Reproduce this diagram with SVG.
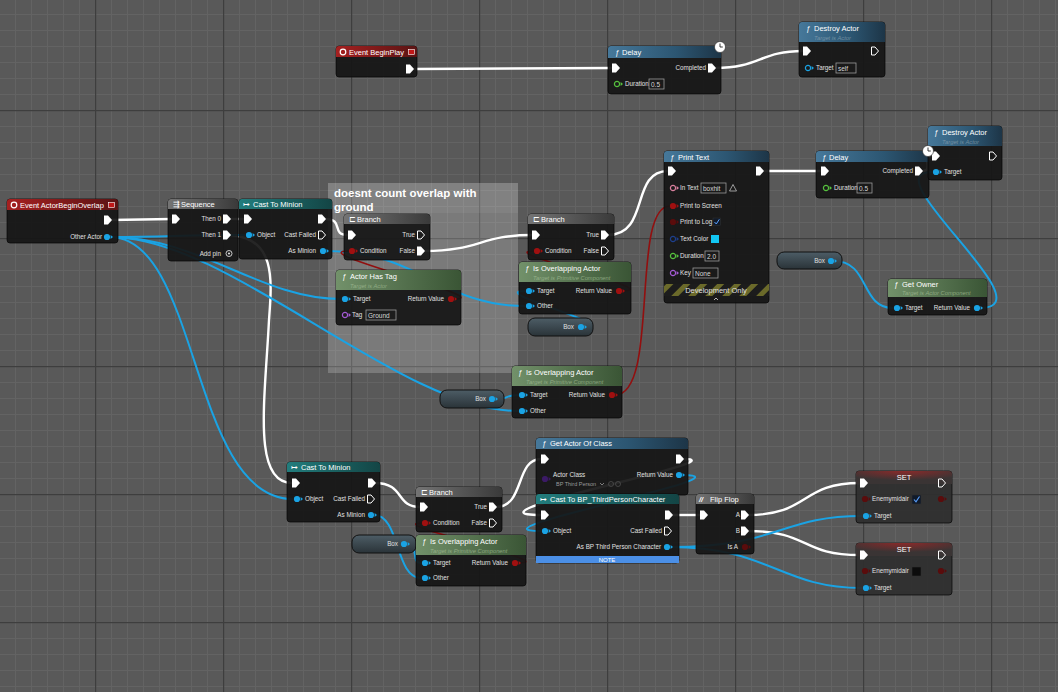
<svg xmlns="http://www.w3.org/2000/svg" width="1058" height="692" viewBox="0 0 1058 692">
<defs>
<pattern id="gMinor" x="15" y="14" width="16" height="16" patternUnits="userSpaceOnUse"><path d="M0.5,0V16M0,0.5H16" stroke="#636363" stroke-width="1" fill="none"/></pattern>
<pattern id="gMajor" x="95" y="110" width="128" height="128" patternUnits="userSpaceOnUse"><path d="M0.5,0V128M0,0.5H128" stroke="#3e3e3e" stroke-width="1.5" fill="none"/></pattern>
<pattern id="stripes" width="12" height="12" patternUnits="userSpaceOnUse" patternTransform="rotate(45)"><rect width="12" height="12" fill="#1c1c1c"/><rect width="5" height="12" fill="#6b6a2a"/></pattern>
<linearGradient id="hRed" x1="0" x2="1"><stop offset="0" stop-color="#a52020"/><stop offset="1" stop-color="#5a1414"/></linearGradient>
<linearGradient id="hBlue" x1="0" x2="1"><stop offset="0" stop-color="#46789a"/><stop offset="0.6" stop-color="#2c5672"/><stop offset="1" stop-color="#1d3547"/></linearGradient>
<linearGradient id="hGreen" x1="0" x2="1"><stop offset="0" stop-color="#72916a"/><stop offset="1" stop-color="#3a5535"/></linearGradient>
<linearGradient id="hTeal" x1="0" x2="1"><stop offset="0" stop-color="#227d7d"/><stop offset="1" stop-color="#134545"/></linearGradient>
<linearGradient id="hGray" x1="0" x2="1"><stop offset="0" stop-color="#747474"/><stop offset="1" stop-color="#3a3a3a"/></linearGradient>
<radialGradient id="hSet" cx="0.5" cy="0" r="0.7"><stop offset="0" stop-color="#8a2a2a"/><stop offset="1" stop-color="#3a3434"/></radialGradient>
<linearGradient id="varG" x1="0" y1="0" x2="0" y2="1"><stop offset="0" stop-color="#4d5d66"/><stop offset="1" stop-color="#2a3338"/></linearGradient>
<linearGradient id="gloss" x1="0" y1="0" x2="0" y2="1"><stop offset="0" stop-color="#fff" stop-opacity="0.18"/><stop offset="1" stop-color="#fff" stop-opacity="0"/></linearGradient>
<path id="exF" d="M-4,-4.5h4l4,4.5l-4,4.5h-4z" fill="#fff"/>
<path id="exH" d="M-3.5,-4h3.5l3.5,4l-3.5,4h-3.5z" fill="none" stroke="#fff" stroke-width="1"/>
<g id="pin"><circle r="3.1"/><path d="M3.6,-2L6,0L3.6,2z"/></g>
<g id="pinH"><circle r="2.6" fill="none" stroke-width="1.2"/><path d="M3.6,-2L6,0L3.6,2z" stroke="none"/></g>
<g id="clock"><circle r="5.5" fill="#fff" stroke="#222" stroke-width="0.6"/><path d="M0,-3.5V0H2.8" stroke="#222" stroke-width="0.9" fill="none"/></g>
</defs>
<style>
.body{fill:#151515;fill-opacity:0.93;stroke:#050505;stroke-opacity:0.7;stroke-width:1}
text{font-family:"Liberation Sans",Arial,sans-serif}
.ttl{font-size:7.5px;fill:#fff}
.sub{font-size:5.8px;font-style:italic;fill:#8fa6b4;fill-opacity:0.7}
.subg{font-size:5.8px;font-style:italic;fill:#a7c09a;fill-opacity:0.7}
.l{font-size:6.3px;fill:#e0e0e0}
.lr{font-size:6.3px;fill:#e0e0e0;text-anchor:end}
.bx{fill:none;stroke:#9a9a9a;stroke-width:0.8}
.bt{font-size:6.5px;fill:#d8d8d8}
.w{fill:none;stroke:#fff;stroke-width:2.4}
.b{fill:none;stroke:#1aa3e4;stroke-width:2}
.r{fill:none;stroke:#920f0f;stroke-width:1.6}
.var{fill:url(#varG);stroke:#111;stroke-width:1}
</style>
<rect width="1058" height="692" fill="#595959"/>
<rect width="1058" height="692" fill="url(#gMinor)"/>
<rect width="1058" height="692" fill="url(#gMajor)"/>

<g id="comment">
<rect x="328" y="183" width="190" height="190" fill="#fff" fill-opacity="0.2"/>
<rect x="328" y="183" width="190" height="30" fill="#fff" fill-opacity="0.06"/>
<text x="334" y="197" font-size="11.5" font-weight="bold" fill="#fff">doesnt count overlap with</text>
<text x="334" y="211" font-size="11.5" font-weight="bold" fill="#fff">ground</text>
</g>

<g id="connectors">
<path class="w" d="M413,69L612,68"/>
<path class="w" d="M715,68C760,68 760,51 803,51"/>
<path class="w" d="M111,220L172,219"/>
<path class="w" d="M230,219L244,219"/>
<path class="w" d="M230,235C276,238 272,280 269,320C265,400 252,483 292,483"/>
<path class="w" d="M325,219C345,219 330,235 348,235"/>
<path class="w" d="M424,251C480,251 480,235 532,235"/>
<path class="w" d="M608,235C650,235 630,171 668,171"/>
<path class="w" d="M763,171L821,171"/>
<path class="w" d="M922,171C935,171 920,156 932,156"/>
<path class="w" d="M375,483C405,483 395,507 420,507"/>
<path class="w" d="M496,507C525,507 515,459 541,459"/>
<path class="w" d="M683,459C745,459 450,515 541,515"/>
<path class="w" d="M672,515L700,515"/>
<path class="w" d="M748,515C810,515 800,483 860,483"/>
<path class="w" d="M748,531C810,531 800,555 860,555"/>
<path class="b" d="M110,237C170,237 180,235 245,235"/>
<path class="b" d="M110,237C200,237 260,299 341,299"/>
<path class="b" d="M110,237C230,237 400,411 518,411"/>
<path class="b" d="M110,237C200,237 190,499 293,499"/>
<path class="b" d="M326,251C420,251 440,306 525,306"/>
<path class="b" d="M584,327C625,327 485,291 525,291"/>
<path class="b" d="M495,399C510,399 505,395 518,395"/>
<path class="b" d="M834,261C870,261 860,308 893,308"/>
<path class="b" d="M980,308C1050,308 870,172 932,172"/>
<path class="b" d="M374,515C400,515 395,578 421,578"/>
<path class="b" d="M407,544C420,544 410,563 421,563"/>
<path class="b" d="M682,475C760,475 460,531 541,531"/>
<path class="b" d="M670,547C780,547 780,516 862,516"/>
<path class="b" d="M670,547C770,547 780,588 862,588"/>
<path class="r" d="M454,299C500,299 300,251 349,251"/>
<path class="r" d="M622,291C670,291 490,251 534,251"/>
<path class="r" d="M615,395C660,395 630,206 670,206"/>
<path class="r" d="M518,563C565,563 380,523 422,523"/>
</g>

<g id="n_beginplay">
<rect class="body" x="336" y="46" width="81" height="31" rx="3"/>
<path d="M336,57V49Q336,46 339,46H414Q417,46 417,49V57Z" fill="url(#hRed)"/>
<circle cx="343" cy="52" r="2.8" fill="none" stroke="#fff" stroke-width="1.2"/>
<text class="ttl" x="349" y="55">Event BeginPlay</text>
<rect x="408.5" y="49.5" width="6" height="5" fill="#c01818" stroke="#fff" stroke-width="0.6"/>
<use href="#exF" x="410" y="69"/>
</g>

<g id="n_delay1">
<rect class="body" x="608" y="46" width="113" height="48" rx="3"/>
<path d="M608,58V49Q608,46 611,46H718Q721,46 721,49V58Z" fill="url(#hBlue)"/>
<text class="ttl" x="615" y="55" font-style="italic">ƒ</text>
<text class="ttl" x="622" y="55">Delay</text>
<use href="#clock" x="720" y="47"/>
<use href="#exF" x="616" y="68"/>
<text class="lr" x="706" y="70">Completed</text>
<use href="#exF" x="712" y="68"/>
<use href="#pinH" x="617" y="84" fill="#56c23e" stroke="#56c23e"/>
<text class="l" x="625" y="86">Duration</text>
<rect class="bx" x="649" y="79" width="15" height="10"/>
<text class="bt" x="651" y="87">0.5</text>
</g>

<g id="n_destroy1">
<rect class="body" x="799" y="22" width="86" height="55" rx="3"/>
<path d="M799,42V25Q799,22 802,22H882Q885,22 885,25V42Z" fill="url(#hBlue)"/>
<text class="ttl" x="806" y="31" font-style="italic">ƒ</text>
<text class="ttl" x="814" y="31">Destroy Actor</text>
<text class="sub" x="814" y="40">Target is Actor</text>
<use href="#exF" x="807" y="51"/>
<use href="#exH" x="875" y="51"/>
<use href="#pinH" x="808" y="68" fill="#1aa3e4" stroke="#1aa3e4"/>
<text class="l" x="816" y="70">Target</text>
<rect class="bx" x="836" y="63" width="20" height="10"/>
<text class="bt" x="838" y="71">self</text>
</g>

<g id="n_overlap_event">
<rect class="body" x="7" y="199" width="111" height="44" rx="3"/>
<path d="M7,210V202Q7,199 10,199H115Q118,199 118,202V210Z" fill="url(#hRed)"/>
<circle cx="14" cy="205" r="2.8" fill="none" stroke="#fff" stroke-width="1.2"/>
<text class="ttl" x="20" y="208">Event ActorBeginOverlap</text>
<rect x="108.5" y="202.5" width="6" height="5" fill="#c01818" stroke="#fff" stroke-width="0.6"/>
<use href="#exF" x="108" y="220"/>
<text class="lr" x="102" y="239">Other Actor</text>
<use href="#pin" x="107" y="237" fill="#1aa3e4"/>
</g>

<g id="n_sequence">
<rect class="body" x="168" y="199" width="70" height="62" rx="3"/>
<path d="M168,209V202Q168,199 171,199H235Q238,199 238,202V209Z" fill="url(#hGray)"/>
<text class="ttl" x="173" y="207" font-size="6.5">⇶</text>
<text class="ttl" x="181" y="207">Sequence</text>
<use href="#exF" x="176" y="219"/>
<text class="lr" x="221" y="221">Then 0</text>
<use href="#exF" x="227" y="219"/>
<text class="lr" x="221" y="237">Then 1</text>
<use href="#exF" x="227" y="235"/>
<text class="lr" x="221" y="256" font-size="7.5">Add pin</text>
<circle cx="229" cy="253.5" r="3" fill="none" stroke="#ddd" stroke-width="0.9"/>
<circle cx="229" cy="253.5" r="1.1" fill="#ddd"/>
</g>

<g id="n_cast_minion1">
<rect class="body" x="239" y="199" width="93" height="60" rx="3"/>
<path d="M239,209V202Q239,199 242,199H329Q332,199 332,202V209Z" fill="url(#hTeal)"/>
<text class="ttl" x="243" y="207" font-size="6.5">↦</text>
<text class="ttl" x="253" y="207">Cast To Minion</text>
<use href="#exF" x="248" y="219"/>
<use href="#exF" x="322" y="219"/>
<use href="#pin" x="249" y="235" fill="#1aa3e4"/>
<text class="l" x="257" y="237">Object</text>
<text class="lr" x="316" y="237">Cast Failed</text>
<use href="#exH" x="322" y="235"/>
<text class="lr" x="316" y="253">As Minion</text>
<use href="#pin" x="323" y="251" fill="#1aa3e4"/>
</g>

<g id="n_branch1">
<rect class="body" x="344" y="214" width="86" height="46" rx="3"/>
<path d="M344,224V217Q344,214 347,214H427Q430,214 430,217V224Z" fill="url(#hGray)"/>
<text class="ttl" x="349" y="222" font-size="7">⊏</text>
<text class="ttl" x="357" y="222">Branch</text>
<use href="#exF" x="352" y="235"/>
<text class="lr" x="415" y="237">True</text>
<use href="#exH" x="421" y="235"/>
<use href="#pin" x="352" y="251" fill="#a01010"/>
<text class="l" x="360" y="253">Condition</text>
<text class="lr" x="415" y="253">False</text>
<use href="#exF" x="421" y="251"/>
</g>

<g id="n_hastag">
<rect class="body" x="336" y="270" width="125" height="55" rx="3"/>
<path d="M336,290V273Q336,270 339,270H458Q461,270 461,273V290Z" fill="url(#hGreen)"/>
<text class="ttl" x="342" y="279" font-style="italic">ƒ</text>
<text class="ttl" x="350" y="279">Actor Has Tag</text>
<text class="subg" x="350" y="288">Target is Actor</text>
<use href="#pin" x="345" y="299" fill="#1aa3e4"/>
<text class="l" x="353" y="301">Target</text>
<text class="lr" x="444" y="301">Return Value</text>
<use href="#pin" x="451" y="299" fill="#a01010"/>
<use href="#pinH" x="345" y="315" fill="#a45ad6" stroke="#a45ad6"/>
<text class="l" x="352" y="317">Tag</text>
<rect class="bx" x="366" y="310" width="30" height="10"/>
<text class="bt" x="368" y="318">Ground</text>
</g>

<g id="n_branch2">
<rect class="body" x="528" y="214" width="86" height="46" rx="3"/>
<path d="M528,224V217Q528,214 531,214H611Q614,214 614,217V224Z" fill="url(#hGray)"/>
<text class="ttl" x="533" y="222" font-size="7">⊏</text>
<text class="ttl" x="541" y="222">Branch</text>
<use href="#exF" x="536" y="235"/>
<text class="lr" x="599" y="237">True</text>
<use href="#exF" x="605" y="235"/>
<use href="#pin" x="537" y="251" fill="#a01010"/>
<text class="l" x="545" y="253">Condition</text>
<text class="lr" x="599" y="253">False</text>
<use href="#exH" x="605" y="251"/>
</g>

<g id="n_isoverlap1">
<rect class="body" x="519" y="262" width="112" height="52" rx="3"/>
<path d="M519,282V265Q519,262 522,262H628Q631,262 631,265V282Z" fill="url(#hGreen)"/>
<text class="ttl" x="525" y="271" font-style="italic">ƒ</text>
<text class="ttl" x="533" y="271">Is Overlapping Actor</text>
<text class="subg" x="533" y="280">Target is Primitive Component</text>
<use href="#pin" x="529" y="291" fill="#1aa3e4"/>
<text class="l" x="537" y="293">Target</text>
<text class="lr" x="612" y="293">Return Value</text>
<use href="#pin" x="619" y="291" fill="#a01010"/>
<use href="#pin" x="529" y="306" fill="#1aa3e4"/>
<text class="l" x="537" y="308">Other</text>
</g>

<g id="n_box1">
<rect class="var" x="528" y="318" width="65" height="18" rx="7"/>
<text class="lr" x="574" y="329">Box</text>
<use href="#pin" x="581" y="327" fill="#1aa3e4"/>
</g>

<g id="n_printtext">
<rect class="body" x="664" y="151" width="105" height="152" rx="3"/>
<path d="M664,162V154Q664,151 667,151H766Q769,151 769,154V162Z" fill="url(#hBlue)"/>
<text class="ttl" x="670" y="160" font-style="italic">ƒ</text>
<text class="ttl" x="678" y="160">Print Text</text>
<use href="#exF" x="672" y="171"/>
<use href="#exF" x="760" y="171"/>
<use href="#pinH" x="673" y="188" fill="#d9809e" stroke="#d9809e"/>
<text class="l" x="680" y="190">In Text</text>
<rect class="bx" x="701" y="183" width="25" height="10"/>
<text class="bt" x="703" y="191">boxhit</text>
<path d="M733,184.5L736.5,191H729.5Z" fill="none" stroke="#bbb" stroke-width="0.8"/>
<use href="#pin" x="673" y="206" fill="#a01010"/>
<text class="l" x="680" y="208">Print to Screen</text>
<use href="#pin" x="673" y="222" fill="#5a0c0c"/>
<text class="l" x="680" y="224">Print to Log</text>
<rect x="713" y="218" width="7.5" height="7.5" fill="#111a28" stroke="#333" stroke-width="0.5"/>
<path d="M714.5,222L716.3,224L719.3,219.3" fill="none" stroke="#5aa0ff" stroke-width="1"/>
<use href="#pinH" x="673" y="239" fill="#1d3f8e" stroke="#1d3f8e"/>
<text class="l" x="680" y="241">Text Color</text>
<rect x="711" y="235" width="8" height="8" fill="#12c6f2"/>
<use href="#pinH" x="673" y="256" fill="#56c23e" stroke="#56c23e"/>
<text class="l" x="680" y="258">Duration</text>
<rect class="bx" x="705" y="251" width="14" height="10"/>
<text class="bt" x="707" y="259">2.0</text>
<use href="#pinH" x="673" y="273" fill="#a45ad6" stroke="#a45ad6"/>
<text class="l" x="680" y="275">Key</text>
<rect class="bx" x="693" y="268" width="25" height="10"/>
<text class="bt" x="695" y="276">None</text>
<rect x="664" y="284" width="105" height="12" fill="url(#stripes)"/>
<text x="716" y="293" font-size="7.5" fill="#e0e0e0" text-anchor="middle">Development Only</text>
<path d="M714,300L716,298L718,300" fill="none" stroke="#ddd" stroke-width="0.8"/>
</g>

<g id="n_delay2">
<rect class="body" x="816" y="151" width="113" height="47" rx="3"/>
<path d="M816,162V154Q816,151 819,151H926Q929,151 929,154V162Z" fill="url(#hBlue)"/>
<text class="ttl" x="822" y="160" font-style="italic">ƒ</text>
<text class="ttl" x="829" y="160">Delay</text>
<use href="#exF" x="825" y="171"/>
<text class="lr" x="913" y="173">Completed</text>
<use href="#exF" x="919" y="171"/>
<use href="#pinH" x="826" y="188" fill="#56c23e" stroke="#56c23e"/>
<text class="l" x="834" y="190">Duration</text>
<rect class="bx" x="857" y="183" width="15" height="10"/>
<text class="bt" x="859" y="191">0.5</text>
</g>

<g id="n_destroy2">
<rect class="body" x="928" y="126" width="74" height="54" rx="3"/>
<path d="M928,146V129Q928,126 931,126H999Q1002,126 1002,129V146Z" fill="url(#hBlue)"/>
<text class="ttl" x="934" y="135" font-style="italic">ƒ</text>
<text class="ttl" x="942" y="135">Destroy Actor</text>
<text class="sub" x="942" y="144">Target is Actor</text>
<use href="#exF" x="936" y="156"/>
<use href="#exH" x="993" y="156"/>
<use href="#pin" x="936" y="172" fill="#1aa3e4"/>
<text class="l" x="944" y="174">Target</text>
</g>
<use href="#clock" x="928" y="151"/>

<g id="n_box2">
<rect class="var" x="777" y="252" width="65" height="17" rx="7"/>
<text class="lr" x="825" y="263">Box</text>
<use href="#pin" x="831" y="261" fill="#1aa3e4"/>
</g>

<g id="n_getowner">
<rect class="body" x="888" y="279" width="99" height="36" rx="3"/>
<path d="M888,297V282Q888,279 891,279H984Q987,279 987,282V297Z" fill="url(#hGreen)"/>
<text class="ttl" x="894" y="287" font-style="italic">ƒ</text>
<text class="ttl" x="902" y="287">Get Owner</text>
<text class="subg" x="902" y="295">Target is Actor Component</text>
<use href="#pin" x="897" y="308" fill="#1aa3e4"/>
<text class="l" x="905" y="310">Target</text>
<text class="lr" x="970" y="310">Return Value</text>
<use href="#pin" x="977" y="308" fill="#1aa3e4"/>
</g>

<g id="n_isoverlap2">
<rect class="body" x="512" y="366" width="110" height="52" rx="3"/>
<path d="M512,386V369Q512,366 515,366H619Q622,366 622,369V386Z" fill="url(#hGreen)"/>
<text class="ttl" x="518" y="375" font-style="italic">ƒ</text>
<text class="ttl" x="526" y="375">Is Overlapping Actor</text>
<text class="subg" x="526" y="384">Target is Primitive Component</text>
<use href="#pin" x="522" y="395" fill="#1aa3e4"/>
<text class="l" x="530" y="397">Target</text>
<text class="lr" x="605" y="397">Return Value</text>
<use href="#pin" x="612" y="395" fill="#a01010"/>
<use href="#pin" x="522" y="411" fill="#1aa3e4"/>
<text class="l" x="530" y="413">Other</text>
</g>

<g id="n_box3">
<rect class="var" x="440" y="390" width="64" height="18" rx="7"/>
<text class="lr" x="486" y="401">Box</text>
<use href="#pin" x="492" y="399" fill="#1aa3e4"/>
</g>

<g id="n_cast_minion2">
<rect class="body" x="287" y="462" width="93" height="60" rx="3"/>
<path d="M287,472V465Q287,462 290,462H377Q380,462 380,465V472Z" fill="url(#hTeal)"/>
<text class="ttl" x="291" y="470" font-size="6.5">↦</text>
<text class="ttl" x="301" y="470">Cast To Minion</text>
<use href="#exF" x="296" y="483"/>
<use href="#exF" x="372" y="483"/>
<use href="#pin" x="297" y="499" fill="#1aa3e4"/>
<text class="l" x="305" y="501">Object</text>
<text class="lr" x="365" y="501">Cast Failed</text>
<use href="#exH" x="371" y="499"/>
<text class="lr" x="365" y="517">As Minion</text>
<use href="#pin" x="371" y="515" fill="#1aa3e4"/>
</g>

<g id="n_branch3">
<rect class="body" x="416" y="487" width="86" height="45" rx="3"/>
<path d="M416,497V490Q416,487 419,487H499Q502,487 502,490V497Z" fill="url(#hGray)"/>
<text class="ttl" x="421" y="495" font-size="7">⊏</text>
<text class="ttl" x="429" y="495">Branch</text>
<use href="#exF" x="424" y="507"/>
<text class="lr" x="487" y="509">True</text>
<use href="#exF" x="493" y="507"/>
<use href="#pin" x="425" y="523" fill="#a01010"/>
<text class="l" x="433" y="525">Condition</text>
<text class="lr" x="487" y="525">False</text>
<use href="#exH" x="493" y="523"/>
</g>

<g id="n_box4">
<rect class="var" x="352" y="535" width="64" height="18" rx="7"/>
<text class="lr" x="398" y="546">Box</text>
<use href="#pin" x="404" y="544" fill="#1aa3e4"/>
</g>

<g id="n_isoverlap3">
<rect class="body" x="416" y="535" width="110" height="51" rx="3"/>
<path d="M416,555V538Q416,535 419,535H523Q526,535 526,538V555Z" fill="url(#hGreen)"/>
<text class="ttl" x="422" y="544" font-style="italic">ƒ</text>
<text class="ttl" x="430" y="544">Is Overlapping Actor</text>
<text class="subg" x="430" y="553">Target is Primitive Component</text>
<use href="#pin" x="425" y="563" fill="#1aa3e4"/>
<text class="l" x="433" y="565">Target</text>
<text class="lr" x="508" y="565">Return Value</text>
<use href="#pin" x="515" y="563" fill="#a01010"/>
<use href="#pin" x="425" y="578" fill="#1aa3e4"/>
<text class="l" x="433" y="580">Other</text>
</g>

<g id="n_getactorofclass">
<rect class="body" x="536" y="438" width="152" height="57" rx="3"/>
<path d="M536,449V441Q536,438 539,438H685Q688,438 688,441V449Z" fill="url(#hBlue)"/>
<text class="ttl" x="542" y="446" font-style="italic">ƒ</text>
<text class="ttl" x="550" y="446">Get Actor Of Class</text>
<use href="#exF" x="545" y="459"/>
<use href="#exF" x="680" y="459"/>
<use href="#pin" x="545" y="479" fill="#3b1a66"/>
<text class="l" x="553" y="477">Actor Class</text>
<text x="556" y="486" font-size="5.5" fill="#9a9a9a">BP Third Person</text>
<path d="M600,483L602,485L604,483" fill="none" stroke="#aaa" stroke-width="0.7"/>
<circle cx="611" cy="484" r="2.5" fill="none" stroke="#555" stroke-width="0.7"/>
<circle cx="618" cy="484" r="2.5" fill="none" stroke="#555" stroke-width="0.7"/>
<text class="lr" x="673" y="477">Return Value</text>
<use href="#pin" x="679" y="475" fill="#1aa3e4"/>
</g>

<g id="n_castbp">
<rect class="body" x="536" y="494" width="143" height="69" rx="3"/>
<path d="M536,504V497Q536,494 539,494H676Q679,494 679,497V504Z" fill="url(#hTeal)"/>
<text class="ttl" x="540" y="502" font-size="6.5">↦</text>
<text class="ttl" x="550" y="502">Cast To BP_ThirdPersonCharacter</text>
<use href="#exF" x="545" y="515"/>
<use href="#exF" x="669" y="515"/>
<use href="#pin" x="545" y="531" fill="#1aa3e4"/>
<text class="l" x="553" y="533">Object</text>
<text class="lr" x="662" y="533">Cast Failed</text>
<use href="#exH" x="668" y="531"/>
<text class="lr" x="661" y="549">As BP Third Person Character</text>
<use href="#pin" x="667" y="547" fill="#1aa3e4"/>
<rect x="536" y="556" width="143" height="7" fill="#4b8fe6"/>
<text x="607" y="562" font-size="6" fill="#fff" text-anchor="middle">NOTE</text>
</g>

<g id="n_flipflop">
<rect class="body" x="696" y="494" width="58" height="60" rx="3"/>
<path d="M696,504V497Q696,494 699,494H751Q754,494 754,497V504Z" fill="url(#hGray)"/>
<text class="ttl" x="699" y="502" font-style="italic" font-weight="bold">//</text>
<text class="ttl" x="710" y="502">Flip Flop</text>
<use href="#exF" x="704" y="515"/>
<text class="lr" x="740" y="517">A</text>
<use href="#exF" x="745" y="515"/>
<text class="lr" x="740" y="533">B</text>
<use href="#exF" x="745" y="531"/>
<text class="lr" x="738" y="549">Is A</text>
<use href="#pin" x="745" y="547" fill="#5a0c0c"/>
</g>

<g id="n_set1">
<rect class="body" x="856" y="471" width="96" height="52" rx="3" style="fill:#2e2e2e"/>
<path d="M856,484V474Q856,471 859,471H949Q952,471 952,474V484Z" fill="url(#hSet)"/>
<text class="ttl" x="904" y="480" text-anchor="middle">SET</text>
<use href="#exF" x="864" y="483"/>
<use href="#exH" x="942" y="483"/>
<use href="#pin" x="865" y="499" fill="#5a0c0c"/>
<text class="l" x="872" y="501">Enemymidair</text>
<rect x="912" y="495" width="9" height="9" fill="#101a2a" stroke="#333" stroke-width="0.5"/>
<path d="M914,499.5L916,501.8L919.5,496.5" fill="none" stroke="#5aa0ff" stroke-width="1.1"/>
<use href="#pin" x="941" y="499" fill="#5a0c0c"/>
<use href="#pin" x="866" y="516" fill="#1aa3e4"/>
<text class="l" x="874" y="518">Target</text>
</g>

<g id="n_set2">
<rect class="body" x="856" y="543" width="96" height="52" rx="3" style="fill:#2e2e2e"/>
<path d="M856,556V546Q856,543 859,543H949Q952,543 952,546V556Z" fill="url(#hSet)"/>
<text class="ttl" x="904" y="552" text-anchor="middle">SET</text>
<use href="#exF" x="864" y="555"/>
<use href="#exH" x="942" y="555"/>
<use href="#pin" x="865" y="571" fill="#5a0c0c"/>
<text class="l" x="872" y="573">Enemymidair</text>
<rect x="912" y="567" width="9" height="9" fill="#0c0c0c" stroke="#333" stroke-width="0.5"/>
<use href="#pin" x="941" y="571" fill="#5a0c0c"/>
<use href="#pin" x="866" y="588" fill="#1aa3e4"/>
<text class="l" x="874" y="590">Target</text>
</g>
</svg>
